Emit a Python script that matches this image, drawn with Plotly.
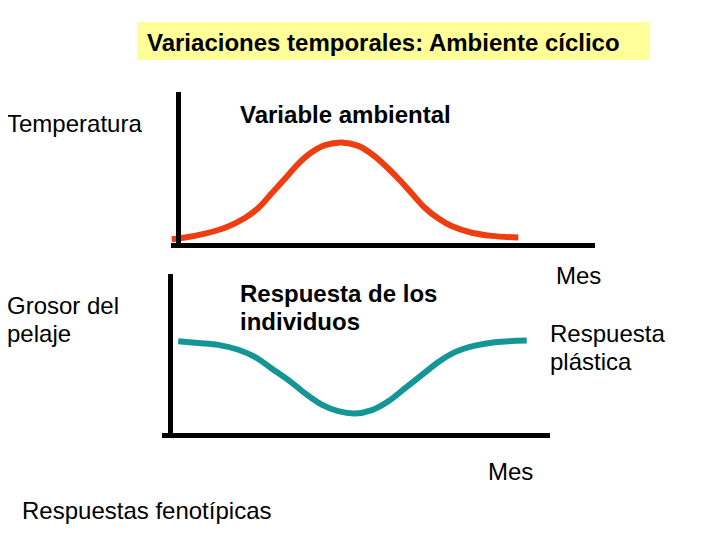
import plotly.graph_objects as go

W, H = 720, 540
OX, OY = 8, 8  # page offset of the plot in the browser

# ---- data (time in months, response in relative units) ----
env_month = [0.02, 0.40, 0.96, 1.53, 2.09, 2.47, 2.85, 3.23, 3.60, 3.98, 4.36, 4.83,
             5.30, 5.68, 6.06, 6.43, 6.81, 7.19, 7.57, 7.94, 8.51, 9.08, 9.83]
env_value = [0.022, 0.033, 0.059, 0.098, 0.163, 0.229, 0.327, 0.425, 0.523, 0.599, 0.647, 0.665,
             0.642, 0.588, 0.512, 0.425, 0.327, 0.229, 0.159, 0.109, 0.065, 0.044, 0.033]

resp_month = [0.50, 1.12, 1.74, 2.36, 2.88, 3.39, 3.91, 4.42, 4.94, 5.45, 5.97, 6.49,
              7.00, 7.52, 8.03, 8.55, 9.06, 9.68, 10.30, 11.28]
resp_value = [0.576, 0.565, 0.553, 0.522, 0.476, 0.404, 0.331, 0.248, 0.176, 0.135, 0.120, 0.141,
              0.197, 0.280, 0.362, 0.445, 0.507, 0.548, 0.570, 0.580]

title_text = "Variaciones temporales: Ambiente cíclico"

def px(x):
    return (x - OX) / W

def py(y):
    return 1 - (y - OY) / H

FONT = "Liberation Sans, Arial, sans-serif"
FS = 24

fig = go.Figure()
fig.add_trace(go.Scatter(x=env_month, y=env_value, mode="lines", line=dict(color="#EE3D10", width=6, shape="spline"),
                         xaxis="x", yaxis="y", hoverinfo="skip"))
fig.add_trace(go.Scatter(x=resp_month, y=resp_value, mode="lines", line=dict(color="#149696", width=6, shape="spline"),
                         xaxis="x2", yaxis="y2", hoverinfo="skip"))

axcommon = dict(showline=True, linewidth=5, linecolor="black", showgrid=False, zeroline=False,
                showticklabels=False, ticks="", fixedrange=True)

fig.update_layout(
    width=W, height=H, margin=dict(l=0, r=0, t=0, b=0), showlegend=False,
    paper_bgcolor="white", plot_bgcolor="rgba(0,0,0,0)",
    xaxis=dict(domain=[px(171), px(595)], range=[0, 12], anchor="y", **axcommon),
    yaxis=dict(domain=[py(242.5), py(92)], range=[0, 1], anchor="free", position=px(178), **axcommon),
    xaxis2=dict(domain=[px(162), px(550)], range=[0, 12], anchor="y2", **axcommon),
    yaxis2=dict(domain=[py(432.5), py(274)], range=[0, 1], anchor="free", position=px(169.5), **axcommon),
)

fig.add_shape(type="rect", xref="paper", yref="paper", x0=px(137), x1=px(650), y0=py(60), y1=py(22),
              fillcolor="#FFFF99", line=dict(width=0), layer="below")

def note(text, x, y, bold=False):
    fig.add_annotation(text=("<b>%s</b>" % text) if bold else text, xref="paper", yref="paper",
                       x=px(x), y=py(y), xanchor="left", yanchor="middle", showarrow=False, align="left",
                       font=dict(family=FONT, size=FS, color="black"))

note(title_text, 145, 43, bold=True)
note("Temperatura", 5, 124)
note("Variable ambiental", 238, 114, bold=True)
note("Grosor del", 5, 305)
note("pelaje", 5, 333)
note("Respuesta de los", 238, 293, bold=True)
note("individuos", 238, 321, bold=True)
note("Mes", 554, 276)
note("Respuesta", 548, 333)
note("plástica", 548, 361)
note("Mes", 486, 471)
note("Respuestas fenotípicas", 20, 510)

fig.write_html("out.html")
